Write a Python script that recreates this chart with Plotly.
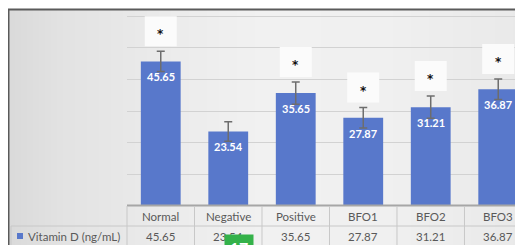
import plotly.graph_objects as go

categories = ["Normal", "Negative", "Positive", "BFO1", "BFO2", "BFO3"]
vitamin_d = [45.65, 23.54, 35.65, 27.87, 31.21, 36.87]
errors = [3.2, 3.1, 3.5, 3.2, 3.5, 3.2]
significant = [True, False, True, True, True, True]
series_name = "Vitamin D (ng/mL)"

BAR = "#5878cb"
TXT = "#595959"
FONT = "Lato"

# the page body has an 8px margin, so the figure starts at (8, 8) of the window
OFF = 8
SW, SH = 523, 245                 # window size
W, H = SW - OFF, SH - OFF         # figure size
PLOT_X0, PLOT_X1, PLOT_Y0, PLOT_Y1 = 127, 523, 10, 206   # plot area in window pixels
L, R = PLOT_X0 - OFF, SW - PLOT_X1
T, B = PLOT_Y0 - OFF, SH - PLOT_Y1
PW, PH = PLOT_X1 - PLOT_X0, PLOT_Y1 - PLOT_Y0
YMAX = 61.9
KY = PH / YMAX          # px per data unit
XMAX = 5.367
CW = PW / (XMAX + 0.5)  # px per category


def px(x):
    return (x - PLOT_X0) / PW


def py(y):
    return (PLOT_Y1 - y) / PH


fig = go.Figure()
fig.add_trace(go.Bar(
    x=list(range(len(categories))), y=vitamin_d, width=0.59,
    marker=dict(color=BAR, line=dict(width=0)),
    error_y=dict(type="data", array=errors, color="#6d6d6d", thickness=1.5, width=4),
    hoverinfo="skip",
))

shapes = []
# background gradient
stops = [(9, 218), (60, 226), (150, 234), (260, 241), (380, 240), (523, 233)]


def grey_at(x):
    for (x0, c0), (x1, c1) in zip(stops[:-1], stops[1:]):
        if x0 <= x <= x1:
            return round(c0 + (c1 - c0) * (x - x0) / (x1 - x0))
    return stops[-1][1]


xs = 9
while xs < SW:
    xe = min(xs + 6, SW)
    g = grey_at((xs + xe) / 2)
    shapes.append(dict(type="rect", xref="paper", yref="paper", x0=px(xs), x1=px(xe) + 0.002,
                       y0=py(SH), y1=py(10), fillcolor=f"rgb({g},{g},{g})", line=dict(width=0), layer="below"))
    xs = xe
# frame
shapes.append(dict(type="line", xref="paper", yref="paper", x0=px(8), x1=px(SW), y0=py(9.5), y1=py(9.5),
                   line=dict(color="#5a5a5a", width=2)))
shapes.append(dict(type="line", xref="paper", yref="paper", x0=px(8.5), x1=px(8.5), y0=py(9), y1=py(SH),
                   line=dict(color="#5a5a5a", width=2)))

annotations = []
for i, (v, e, s) in enumerate(zip(vitamin_d, errors, significant)):
    annotations.append(dict(x=i, y=v, xref="x", yref="y", text=f"<b>{v:.2f}</b>", showarrow=False,
                            yanchor="top", yshift=-7, font=dict(family=FONT, size=11, color="white")))
    if s:
        y0 = v + e + 5 / KY
        y1 = y0 + 30 / KY
        shapes.append(dict(type="rect", xref="x", yref="y", x0=i - 16 / CW, x1=i + 16 / CW, y0=y0, y1=y1,
                           fillcolor="#fbfbfb", line=dict(width=0), layer="above"))
        annotations.append(dict(x=i, y=(y0 + y1) / 2, xref="x", yref="y", text="<b>*</b>", showarrow=False,
                                yanchor="middle", yshift=-3, font=dict(family="DejaVu Sans", size=12, color="#111111")))

# data table
shapes.append(dict(type="line", xref="paper", yref="paper", x0=px(PLOT_X0), x1=px(SW), y0=py(205.5), y1=py(205.5),
                   line=dict(color="#a6a6a6", width=2)))
shapes.append(dict(type="line", xref="paper", yref="paper", x0=px(11), x1=px(SW), y0=py(226), y1=py(226),
                   line=dict(color="#c8c8c8", width=1)))
shapes.append(dict(type="line", xref="paper", yref="paper", x0=px(PLOT_X0), x1=px(PLOT_X0), y0=py(206), y1=py(SH),
                   line=dict(color="#c8c8c8", width=1)))
shapes.append(dict(type="line", xref="paper", yref="paper", x0=px(11), x1=px(11), y0=py(226), y1=py(SH),
                   line=dict(color="#c8c8c8", width=1)))
for i in range(len(categories) - 1):
    shapes.append(dict(type="line", xref="x", yref="paper", x0=i + 0.5, x1=i + 0.5, y0=py(206), y1=py(SH),
                       line=dict(color="#c8c8c8", width=1)))
for i, (c, v) in enumerate(zip(categories, vitamin_d)):
    annotations.append(dict(x=i, y=py(216), xref="x", yref="paper", text=c, showarrow=False,
                            yanchor="middle", font=dict(family=FONT, size=11.5, color=TXT)))
    annotations.append(dict(x=i, y=py(236), xref="x", yref="paper", text=f"{v:.2f}", showarrow=False,
                            yanchor="middle", font=dict(family=FONT, size=11.5, color=TXT)))
shapes.append(dict(type="rect", xref="paper", yref="paper", x0=px(17), x1=px(23), y0=py(239), y1=py(233),
                   fillcolor=BAR, line=dict(width=0)))
annotations.append(dict(x=px(26), y=py(236), xref="paper", yref="paper", text=series_name, showarrow=False,
                        xanchor="left", yanchor="middle", font=dict(family=FONT, size=11.5, color=TXT)))
# page badge
annotations.append(dict(x=px(239), y=py(234), xref="paper", yref="paper", text="<b>17</b>", showarrow=False,
                        xanchor="center", yanchor="top", bgcolor="#34b24a", borderpad=0, width=28, height=24,
                        valign="middle", font=dict(family=FONT, size=16, color="white")))

fig.update_layout(
    width=W, height=H, margin=dict(l=L, r=R, t=T, b=B),
    paper_bgcolor="white", plot_bgcolor="rgba(0,0,0,0)", showlegend=False,
    xaxis=dict(range=[-0.5, XMAX], showticklabels=False, showgrid=False, zeroline=False, showline=False,
               ticks=""),
    yaxis=dict(range=[0, YMAX], dtick=10, showticklabels=False, showgrid=True, gridcolor="#d2d2d2",
               gridwidth=1, zeroline=False, showline=False, ticks=""),
    shapes=shapes, annotations=annotations,
)
fig.write_html("out.html")
